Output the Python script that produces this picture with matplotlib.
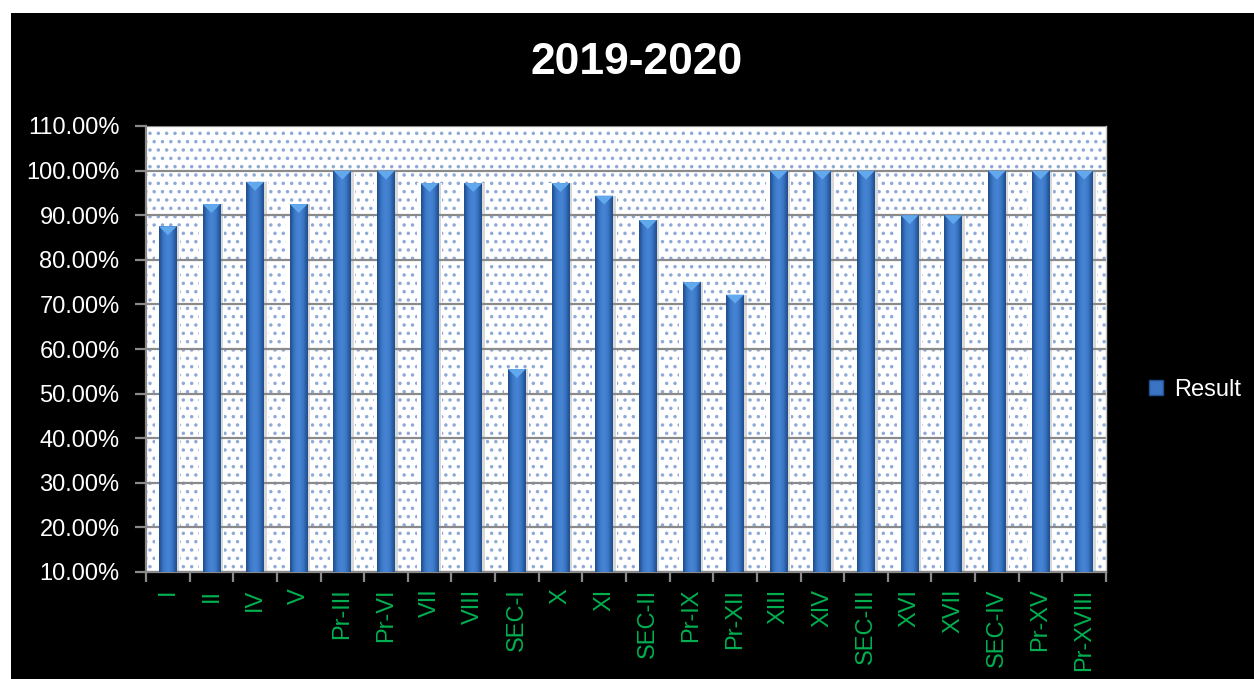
import matplotlib
matplotlib.use("Agg")
import matplotlib.pyplot as plt
import numpy as np
from matplotlib.patches import Rectangle, Polygon, Patch
from matplotlib.ticker import FixedLocator, PercentFormatter
from matplotlib.colors import LinearSegmentedColormap

categories = ["I", "II", "IV", "V", "Pr-III", "Pr-VI", "VII", "VIII", "SEC-I", "X", "XI",
              "SEC-II", "Pr-IX", "Pr-XII", "XIII", "XIV", "SEC-III", "XVI", "XVII",
              "SEC-IV", "Pr-XV", "Pr-XVIII"]
results = [87.5, 92.5, 97.5, 92.5, 100, 100, 97.2, 97.2, 55.5, 97.2, 94.4,
           88.9, 75.0, 72.2, 100, 100, 100, 90.0, 90.0, 100, 100, 100]
yticks = [10, 20, 30, 40, 50, 60, 70, 80, 90, 100, 110]
title = "2019-2020"
series_name = "Result"

FONT = ["Liberation Sans Narrow", "Liberation Sans", "DejaVu Sans"]
plt.rcParams["font.family"] = FONT
plt.rcParams["hatch.color"] = "#8fa9d6"
plt.rcParams["hatch.linewidth"] = 1.3

W, H = 1254, 679
fig = plt.figure(figsize=(W / 100, H / 100), dpi=100, facecolor="white")
fig.patches.append(Rectangle((11 / W, 0), 1 - 11 / W, 1 - 13 / H, transform=fig.transFigure,
                             facecolor="black", edgecolor="none", zorder=-10))

ax = fig.add_axes([146 / W, 1 - 572 / H, (1106 - 146) / W, (572 - 126) / H])
ax.set_facecolor("white")
ax.add_patch(Rectangle((0, 0), 1, 1, transform=ax.transAxes, facecolor="white",
                       hatch="..", edgecolor="#8fa9d6", lw=0, zorder=0))

x = np.arange(len(categories))
bw = 0.41
base = yticks[0]
heights = [v - base for v in results]

# soft halo / shadow around the bars
ax.bar(x, heights, width=bw + 0.16, bottom=base, color="white", edgecolor="none", zorder=0.5)
ax.bar(x + 0.03, heights, width=bw + 0.06, bottom=base, color="#d8d8d8", edgecolor="none",
       zorder=0.6)

for yv in yticks:
    ax.axhline(yv, color="#8a8a8a", lw=1.6, zorder=1)

bars = ax.bar(x, heights, width=bw, bottom=base, color="#3a74c2", edgecolor="none", zorder=3)
grad = np.array([[0.0, 0.35, 0.65, 0.85, 1.0, 0.85, 0.6, 0.3, 0.0]])
cmap = LinearSegmentedColormap.from_list("b", ["#21508f", "#3a76c6", "#4784d4"])
for b, v in zip(bars, results):
    x0 = b.get_x()
    im = ax.imshow(grad, extent=[x0, x0 + bw, base, v], aspect="auto", cmap=cmap,
                   interpolation="bicubic", zorder=3.5)
    im.set_clip_path(b)
    depth = 2.0
    tri = Polygon([[x0, v], [x0 + bw, v], [x0 + bw / 2, v - depth]], closed=True,
                  facecolor="#62a8ec", edgecolor="none", zorder=4)
    ax.add_patch(tri)
ax.set_xlim(-0.5, len(categories) - 0.5)
ax.set_ylim(yticks[0], yticks[-1])

ax.yaxis.set_major_locator(FixedLocator(yticks))
ax.yaxis.set_major_formatter(PercentFormatter(decimals=2))
ax.tick_params(axis="y", colors="#8a8a8a", length=8, width=1.6, labelcolor="white",
               labelsize=17, pad=11)
ax.xaxis.set_major_locator(FixedLocator(x))
ax.set_xticklabels(categories, rotation=90, color="#00b050", fontsize=17)
ax.tick_params(axis="x", which="major", length=0, pad=12)
ax.xaxis.set_minor_locator(FixedLocator(np.arange(-0.5, len(categories), 1.0)))
ax.tick_params(axis="x", which="minor", length=7, width=1.6, color="#8a8a8a")

ax.spines["top"].set_visible(False)
for s in ["left", "bottom"]:
    ax.spines[s].set_color("#8a8a8a")
    ax.spines[s].set_linewidth(1.6)
ax.spines["right"].set_color("#c8c8c8")
ax.spines["right"].set_linewidth(1.0)

fig.text(637 / W, 1 - 62 / H, title, color="white", fontsize=32, fontweight="bold",
         ha="center", va="center")

handle = Patch(facecolor="#3a74c2", edgecolor="#21508f")
fig.legend([handle], [series_name], loc="center left",
           bbox_to_anchor=(1128 / W, 1 - 390 / H), frameon=False,
           labelcolor="white", fontsize=17, handlelength=0.6, handleheight=0.6,
           handletextpad=0.45)

fig.savefig("out.png", dpi=100, facecolor="white")
